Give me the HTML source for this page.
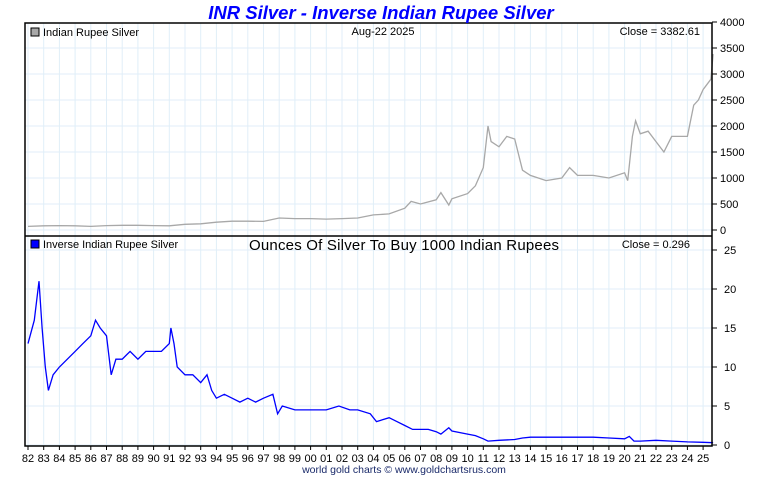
<!DOCTYPE html>
<html><head><meta charset="utf-8"><style>
body{margin:0;background:#fff;width:760px;height:475px;overflow:hidden;font-family:"Liberation Sans",sans-serif}
svg text{font-family:"Liberation Sans",sans-serif}
</style></head><body>
<svg id="c" width="760" height="475"></svg>
<script>
const priceYears=[82,83,84,85,86,87,88,89,90,91,92,93,94,95,96,97,98,99,100,101,102,103,104,105,106,106.4,107,108,108.3,108.8,109,110,110.5,111,111.3,111.5,112,112.5,113,113.5,114,115,116,116.5,117,118,119,120,120.2,120.5,120.7,121,121.5,122,122.5,123,123.5,124,124.4,124.7,125,125.5,125.64];
const priceValues=[70,80,85,80,70,85,90,90,85,80,110,120,150,170,170,165,230,220,220,210,220,230,290,310,420,550,500,580,720,480,600,700,850,1200,2000,1700,1600,1800,1750,1150,1050,950,1000,1200,1050,1050,1000,1100,950,1800,2100,1850,1900,1700,1500,1800,1800,1800,2400,2500,2700,2900,3383];
const invYears=[82,82.4,82.7,82.9,83.1,83.3,83.6,84,84.5,85,85.5,86,86.3,86.6,87,87.3,87.6,88,88.5,89,89.5,90,90.5,91,91.1,91.3,91.5,92,92.5,93,93.4,93.7,94,94.5,95,95.5,96,96.5,97,97.6,97.9,98.2,99,100,101,101.8,102.5,103,103.8,104.2,105,105.5,106,106.5,107,107.5,108,108.3,108.8,109,110,110.5,111,111.3,112,113,113.5,114,115,116,117,118,119,120,120.3,120.6,121,122,123,124,125,125.64];
const invValues=[13,16,21,15,10,7,9,10,11,12,13,14,16,15,14,9,11,11,12,11,12,12,12,13,15,13,10,9,9,8,9,7,6,6.5,6,5.5,6,5.5,6,6.5,4,5,4.5,4.5,4.5,5,4.5,4.5,4,3,3.5,3,2.5,2,2,2,1.7,1.4,2.2,1.8,1.4,1.2,0.8,0.5,0.6,0.7,0.9,1.0,1.0,1.0,1.0,1.0,0.9,0.8,1.1,0.5,0.5,0.6,0.5,0.4,0.35,0.3];
const yearLabels=["82","83","84","85","86","87","88","89","90","91","92","93","94","95","96","97","98","99","00","01","02","03","04","05","06","07","08","09","10","11","12","13","14","15","16","17","18","19","20","21","22","23","24","25"];
const topTicks=[0,500,1000,1500,2000,2500,3000,3500,4000];
const botTicks=[0,5,10,15,20,25];

const svg=document.getElementById('c');const NS='http://www.w3.org/2000/svg';
function el(t,a,p){const e=document.createElementNS(NS,t);for(const k in a)e.setAttribute(k,a[k]);(p||svg).appendChild(e);return e;}
const L=25,R=712,T=23,M=236,B=446;
const xs=y=>28+(y-82)*15.7;
const yTop=v=>230-v*(208/4000);
const yBot=v=>445-v*(195/25);
const grid=el('g',{});
yearLabels.forEach((l,i)=>{const x=xs(82+i);el('line',{x1:x,x2:x,y1:T,y2:B,stroke:'#e0eef8','stroke-width':1},grid);});
topTicks.forEach(v=>{const y=yTop(v);if(y>T)el('line',{x1:L,x2:R,y1:y,y2:y,stroke:'#e0eef8'},grid);});
botTicks.forEach(v=>{const y=yBot(v);el('line',{x1:L,x2:R,y1:y,y2:y,stroke:'#e0eef8'},grid);});
let d='';priceYears.forEach((y,i)=>{d+=(i?'L':'M')+xs(y).toFixed(1)+','+yTop(priceValues[i]).toFixed(1);});
const p1=el('path',{d:d,fill:'none',stroke:'#a8a8a8','stroke-width':1.3});

d='';invYears.forEach((y,i)=>{d+=(i?'L':'M')+xs(y).toFixed(1)+','+yBot(invValues[i]).toFixed(1);});
const p2=el('path',{d:d,fill:'none',stroke:'#0000ff','stroke-width':1.3});

el('rect',{x:L,y:T,width:R-L,height:B-T,fill:'none',stroke:'#000','stroke-width':1.5});
el('line',{x1:L,x2:R,y1:M,y2:M,stroke:'#000','stroke-width':1.5});
topTicks.forEach(v=>{const y=yTop(v);el('line',{x1:R,x2:R+5,y1:y,y2:y,stroke:'#000'});const t=el('text',{x:R+8,y:y+4,'font-size':11,fill:'#000'});t.textContent=v;});
botTicks.forEach(v=>{const y=yBot(v);el('line',{x1:R,x2:R+5,y1:y,y2:y,stroke:'#000'});const t=el('text',{x:R+12,y:y+4,'font-size':11,fill:'#000'});t.textContent=v;});
yearLabels.forEach((l,i)=>{const x=xs(82+i);el('line',{x1:x,x2:x,y1:B,y2:B+4,stroke:'#000'});const t=el('text',{x:x,y:462,'font-size':11,'text-anchor':'middle',fill:'#000'});t.textContent=l;});
function txt(x,y,s,str,attrs,name){const t=el('text',Object.assign({x:x,y:y,'font-size':s},attrs||{}));t.textContent=str;return t;}
txt(381,19,18.5,'INR Silver - Inverse Indian Rupee Silver',{'text-anchor':'middle',fill:'#0000ff','font-weight':'bold','font-style':'italic'},'chart-title');
el('rect',{x:31,y:28,width:8,height:8,fill:'#a8a8a8',stroke:'#000'});
txt(43,36,11,'Indian Rupee Silver',{},'top-legend-entry');
txt(383,35,11,'Aug-22  2025',{'text-anchor':'middle'},'date-label');
txt(700,35,11,'Close = 3382.61',{'text-anchor':'end'},'top-close-label');
el('rect',{x:31,y:240,width:8,height:8,fill:'#0000ff',stroke:'#000'});
txt(43,248,11,'Inverse Indian Rupee Silver',{},'bottom-legend-entry');
txt(404,250,15,'Ounces Of Silver To Buy 1000 Indian Rupees',{'text-anchor':'middle','textLength':310},'bottom-panel-title');
txt(690,248,11,'Close = 0.296',{'text-anchor':'end'},'bottom-close-label');
txt(404,473,10.5,'world gold charts © www.goldchartsrus.com',{'text-anchor':'middle',fill:'#1a2a6a'},'footer-credit');
</script>
</body></html>
